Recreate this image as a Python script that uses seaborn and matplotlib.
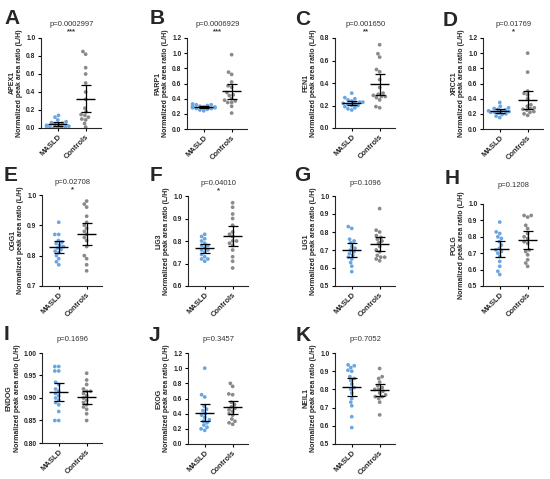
import numpy as np
import pandas as pd
import matplotlib
matplotlib.use("Agg")
import matplotlib.pyplot as plt
import seaborn as sns

# ---------------------------------------------------------------------------
# Data
# ---------------------------------------------------------------------------
groups = ["MASLD", "Controls"]

apex1_masld = [0.14, 0.12, 0.09, 0.07, 0.06, 0.05, 0.04, 0.04, 0.03, 0.02, 0.02, 0.01, 0.01, 0.01, 0.0, 0.0]
apex1_ctrl = [0.85, 0.82, 0.67, 0.60, 0.50, 0.40, 0.32, 0.22, 0.18, 0.15, 0.14, 0.12, 0.10, 0.09, 0.05, 0.01]

parp1_masld = [0.33, 0.32, 0.32, 0.31, 0.30, 0.30, 0.29, 0.29, 0.29, 0.28, 0.28, 0.27, 0.27, 0.26, 0.25, 0.24]
parp1_ctrl = [0.98, 0.75, 0.72, 0.62, 0.57, 0.55, 0.48, 0.45, 0.44, 0.40, 0.38, 0.37, 0.35, 0.35, 0.30, 0.21]

fen1_masld = [0.31, 0.27, 0.26, 0.25, 0.24, 0.23, 0.23, 0.22, 0.22, 0.21, 0.20, 0.20, 0.19, 0.18, 0.17, 0.16]
fen1_ctrl = [0.74, 0.66, 0.63, 0.52, 0.50, 0.43, 0.36, 0.31, 0.30, 0.29, 0.28, 0.28, 0.27, 0.25, 0.19, 0.18]

xrcc1_masld = [0.35, 0.30, 0.28, 0.27, 0.26, 0.25, 0.24, 0.24, 0.23, 0.22, 0.22, 0.21, 0.20, 0.19, 0.17, 0.15]
xrcc1_ctrl = [1.00, 0.75, 0.50, 0.47, 0.45, 0.40, 0.32, 0.30, 0.28, 0.27, 0.26, 0.25, 0.23, 0.22, 0.20, 0.18]

ogg1_masld = [0.91, 0.87, 0.87, 0.85, 0.845, 0.84, 0.835, 0.83, 0.825, 0.82, 0.815, 0.81, 0.80, 0.79, 0.78, 0.77]
ogg1_ctrl = [0.98, 0.97, 0.96, 0.93, 0.91, 0.90, 0.89, 0.88, 0.87, 0.86, 0.85, 0.83, 0.80, 0.79, 0.77, 0.75]

lig3_masld = [0.83, 0.82, 0.81, 0.80, 0.79, 0.78, 0.78, 0.77, 0.76, 0.76, 0.75, 0.74, 0.73, 0.72, 0.72, 0.71]
lig3_ctrl = [0.97, 0.95, 0.92, 0.90, 0.87, 0.84, 0.83, 0.82, 0.80, 0.80, 0.79, 0.78, 0.76, 0.73, 0.71, 0.68]

lig1_masld = [0.83, 0.82, 0.76, 0.75, 0.74, 0.72, 0.71, 0.70, 0.69, 0.68, 0.67, 0.66, 0.65, 0.63, 0.61, 0.58]
lig1_ctrl = [0.93, 0.81, 0.80, 0.78, 0.77, 0.76, 0.75, 0.74, 0.72, 0.70, 0.69, 0.67, 0.66, 0.66, 0.65, 0.64]

polg_masld = [0.89, 0.83, 0.82, 0.80, 0.79, 0.77, 0.75, 0.73, 0.72, 0.71, 0.70, 0.68, 0.65, 0.62, 0.59, 0.57]
polg_ctrl = [0.93, 0.93, 0.92, 0.87, 0.85, 0.82, 0.80, 0.79, 0.77, 0.76, 0.72, 0.71, 0.69, 0.66, 0.64, 0.62]

endog_masld = [0.97, 0.97, 0.96, 0.96, 0.935, 0.93, 0.92, 0.915, 0.91, 0.905, 0.90, 0.895, 0.89, 0.885, 0.87, 0.85, 0.85]
endog_ctrl = [0.955, 0.94, 0.93, 0.92, 0.915, 0.915, 0.91, 0.905, 0.90, 0.895, 0.89, 0.885, 0.88, 0.875, 0.865, 0.85]

exog_masld = [1.00, 0.65, 0.62, 0.50, 0.46, 0.44, 0.40, 0.38, 0.35, 0.32, 0.30, 0.28, 0.25, 0.22, 0.20, 0.18]
exog_ctrl = [0.80, 0.76, 0.66, 0.65, 0.55, 0.52, 0.49, 0.47, 0.45, 0.43, 0.40, 0.38, 0.33, 0.30, 0.28, 0.26]

neil1_masld = [0.935, 0.93, 0.92, 0.905, 0.90, 0.87, 0.86, 0.85, 0.83, 0.81, 0.80, 0.78, 0.75, 0.73, 0.71, 0.65, 0.59]
neil1_ctrl = [0.915, 0.87, 0.86, 0.84, 0.82, 0.81, 0.80, 0.80, 0.79, 0.78, 0.77, 0.76, 0.76, 0.75, 0.73, 0.66]

genes = ["APEX1", "PARP1", "FEN1", "XRCC1", "OGG1", "LIG3",
         "LIG1", "POLG", "ENDOG", "EXOG", "NEIL1"]
letters = ["A", "B", "C", "D", "E", "F", "G", "H", "I", "J", "K"]
p_values = ["p=0.0002997", "p=0.0006929", "p=0.001650", "p=0.01769",
            "p=0.02708", "p=0.04010", "p=0.1096", "p=0.1208",
            "p=0.1696", "p=0.3457", "p=0.7052"]
stars = ["***", "***", "**", "*", "*", "*", "", "", "", "", ""]
y_ticks = [
    [0.0, 0.2, 0.4, 0.6, 0.8, 1.0],
    [0.0, 0.2, 0.4, 0.6, 0.8, 1.0, 1.2],
    [0.0, 0.2, 0.4, 0.6, 0.8],
    [0.0, 0.2, 0.4, 0.6, 0.8, 1.0, 1.2],
    [0.7, 0.8, 0.9, 1.0],
    [0.6, 0.7, 0.8, 0.9, 1.0],
    [0.5, 0.6, 0.7, 0.8, 0.9, 1.0],
    [0.5, 0.6, 0.7, 0.8, 0.9, 1.0],
    [0.80, 0.85, 0.90, 0.95, 1.00],
    [0.0, 0.2, 0.4, 0.6, 0.8, 1.0, 1.2],
    [0.5, 0.6, 0.7, 0.8, 0.9, 1.0],
]
masld_data = [apex1_masld, parp1_masld, fen1_masld, xrcc1_masld, ogg1_masld, lig3_masld,
              lig1_masld, polg_masld, endog_masld, exog_masld, neil1_masld]
ctrl_data = [apex1_ctrl, parp1_ctrl, fen1_ctrl, xrcc1_ctrl, ogg1_ctrl, lig3_ctrl,
             lig1_ctrl, polg_ctrl, endog_ctrl, exog_ctrl, neil1_ctrl]

# ---------------------------------------------------------------------------
# Layout (pixels in a 550x479 canvas): axes left, top, bottom; letter x, y
# ---------------------------------------------------------------------------
W, H = 550, 479
AX_W = 60
boxes = [(41, 38, 128), (187, 38, 129), (335, 38, 128), (483, 38, 129),
         (42, 195, 286), (188, 196, 286), (335, 196, 286), (483, 204, 286),
         (42, 353, 443), (188, 353, 444), (335, 353, 444)]
letter_pos = [(4, 9), (150, 9), (295, 10), (443, 11),
              (4, 166), (150, 166), (294, 166), (445, 169),
              (4, 325), (149, 326), (296, 326)]
p_offset = [10, 10, 10, 10, 9, 9, 9, 13, 10, 10, 10]

T95 = {15: 2.145, 16: 2.131, 17: 2.120}
palette = {"MASLD": "#6aa7e2", "Controls": "#8a8a8a"}

sns.set_style("ticks")
plt.rcParams["font.family"] = ["Liberation Sans", "DejaVu Sans"]
plt.rcParams["axes.linewidth"] = 0.8

fig = plt.figure(figsize=(W / 100, H / 100), dpi=100)

for k, gene in enumerate(genes):
    left, top, bottom = boxes[k]
    ax = fig.add_axes([left / W, 1 - bottom / H, AX_W / W, (bottom - top) / H])

    df = pd.DataFrame({
        "group": ["MASLD"] * len(masld_data[k]) + ["Controls"] * len(ctrl_data[k]),
        "value": list(masld_data[k]) + list(ctrl_data[k]),
    })
    sns.swarmplot(data=df, x="group", y="value", hue="group", order=groups,
                  palette=palette, size=2.7, linewidth=0, legend=False,
                  ax=ax, zorder=2)

    # mean with 95% CI
    for i, vals in enumerate([masld_data[k], ctrl_data[k]]):
        v = np.asarray(vals)
        m = v.mean()
        ci = T95[len(v)] * v.std(ddof=1) / np.sqrt(len(v))
        ax.hlines(m, i - 0.34, i + 0.34, color="black", lw=1.0, zorder=5)
        ax.errorbar(i, m, yerr=ci, fmt="none", ecolor="black",
                    elinewidth=0.9, capsize=3.4, capthick=0.9, zorder=5)

    ticks = y_ticks[k]
    ax.set_ylim(ticks[0], ticks[-1])
    ax.set_yticks(ticks)
    fmt = "{:.2f}" if gene == "ENDOG" else "{:.1f}"
    ax.set_yticklabels([fmt.format(t) for t in ticks], fontsize=4.8, fontweight="bold")
    ax.set_xlim(-0.6, 1.55)
    ax.set_xticks([0, 1])
    ax.set_xticklabels(groups, rotation=45, ha="right", rotation_mode="anchor",
                       fontsize=5.5, fontweight="bold")
    ax.tick_params(axis="both", length=2.5, width=0.8, pad=1.5, color="black")
    ax.set_xlabel("")
    ax.set_ylabel(f"{gene}\nNormalized peak area ratio (L/H)",
                  fontsize=5, fontweight="bold", labelpad=2, linespacing=1.15)
    sns.despine(ax=ax)
    ax.patch.set_alpha(0)

    ax.annotate(p_values[k], xy=(0.5, 1), xycoords=("data", "axes fraction"),
                xytext=(0, p_offset[k]), textcoords="offset points",
                ha="center", va="center", fontsize=5.5, color="#333333")
    if stars[k]:
        ax.annotate(stars[k], xy=(0.5, 1), xycoords=("data", "axes fraction"),
                    xytext=(0, p_offset[k] - 5.5), textcoords="offset points",
                    ha="center", va="center", fontsize=5.5, fontweight="bold",
                    color="#333333")

    lx, ly = letter_pos[k]
    fig.text(lx / W, 1 - ly / H, letters[k], fontsize=15, fontweight="bold",
             ha="left", va="top")

fig.savefig("out.png", dpi=100)
